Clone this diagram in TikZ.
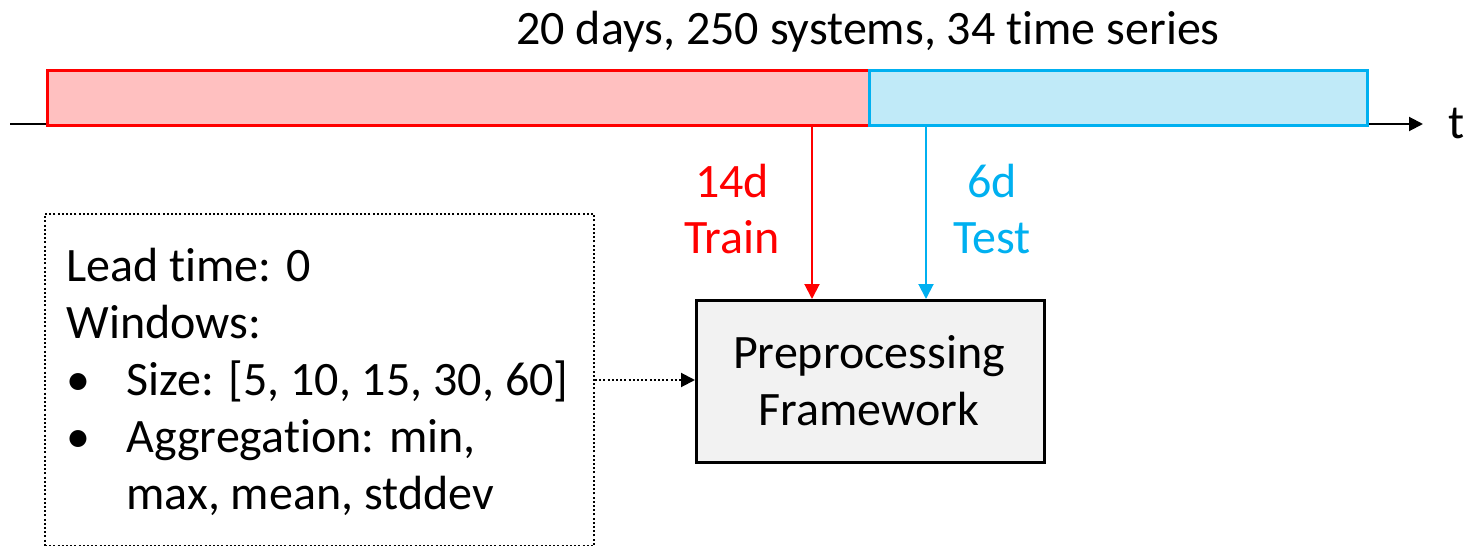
\documentclass[tikz,border=0pt]{standalone}
\usepackage{fontspec}
\setmainfont{Carlito}[RawFeature=-liga]
\usetikzlibrary{arrows.meta}
\definecolor{trainred}{RGB}{255,0,0}
\definecolor{trainfill}{RGB}{255,192,192}
\definecolor{testblue}{RGB}{0,176,240}
\definecolor{testfill}{RGB}{192,234,248}
\definecolor{boxfill}{RGB}{242,242,242}
\begin{document}
\begin{tikzpicture}[x=0.5pt,y=-0.5pt,
  txt/.style={font=\fontsize{24}{28}\selectfont, inner sep=0pt, anchor=base},
  ltxt/.style={txt, anchor=base west},
  bar/.style={draw, line width=1.5pt, anchor=north west, inner sep=0pt, minimum height=27.5pt},
  trainbar/.style={bar, draw=trainred, fill=trainfill},
  testbar/.style={bar, draw=testblue, fill=testfill},
  axis/.style={line width=1pt, -{Triangle[length=7pt,width=7pt]}},
  feed/.style={line width=1pt, -{Triangle[length=7.5pt,width=7.5pt]}},
  procbox/.style={draw, line width=1.25pt, fill=boxfill, anchor=north west, inner sep=0pt,
    minimum width=174pt, minimum height=81pt},
  cfgbox/.style={draw, line width=1pt, dash pattern=on 1pt off 1.1pt, anchor=north west,
    inner sep=0pt, minimum width=274.5pt, minimum height=166pt},
  dotarrow/.style={line width=1pt, dash pattern=on 1pt off 1.1pt, -{Triangle[length=7pt,width=7pt]}}
]
\useasboundingbox (0,0) rectangle (1464,546);
% time axis
\coordinate (axL) at (10,124);
\coordinate (axR) at (1423,124);
\draw[axis] (axL) -- (axR);
\node[txt] (t) at (1457,138) {t};
% bars
\node[trainbar, minimum width=411pt] (train) at (46,69) {};
\node[testbar, minimum width=249pt] (test) at (868,69) {};
\node[txt] (title) at (868,45) {20 days, 250 systems, 34 time series};
% preprocessing box
\node[procbox] (prep) at (695,299) {};
\node[txt] (prep1) at (869,368) {Preprocessing};
\node[txt] (prep2) at (869,425) {Framework};
% arrows from bars
\coordinate (ta) at (812,124);
\coordinate (tb) at (926,124);
\draw[feed, trainred] (ta) -- (ta |- prep.north);
\draw[feed, testblue] (tb) -- (tb |- prep.north);
\node[txt, text=trainred] (l14) at (732,197) {14d};
\node[txt, text=trainred] (ltrain) at (732,253) {Train};
\node[txt, text=testblue] (l6) at (992,197) {6d};
\node[txt, text=testblue] (ltest) at (992,253) {Test};
% config box
\node[cfgbox] (cfg) at (44,213) {};
\node[ltxt] (c1) at (66,281) {Lead time: 0};
\node[ltxt] (c2) at (66,338) {Windows:};
\node[ltxt] (b1) at (66,395) {•};
\node[ltxt] (c3) at (126,395) {Size: [5, 10, 15, 30, 60]};
\node[ltxt] (b2) at (66,452) {•};
\node[ltxt] (c4) at (126,452) {Aggregation: min,};
\node[ltxt] (c5) at (126,509) {max, mean, stddev};
\coordinate (da) at (cfg.east |- 0,380);
\draw[dotarrow] (da) -- (da -| prep.west);
\end{tikzpicture}
\end{document}
